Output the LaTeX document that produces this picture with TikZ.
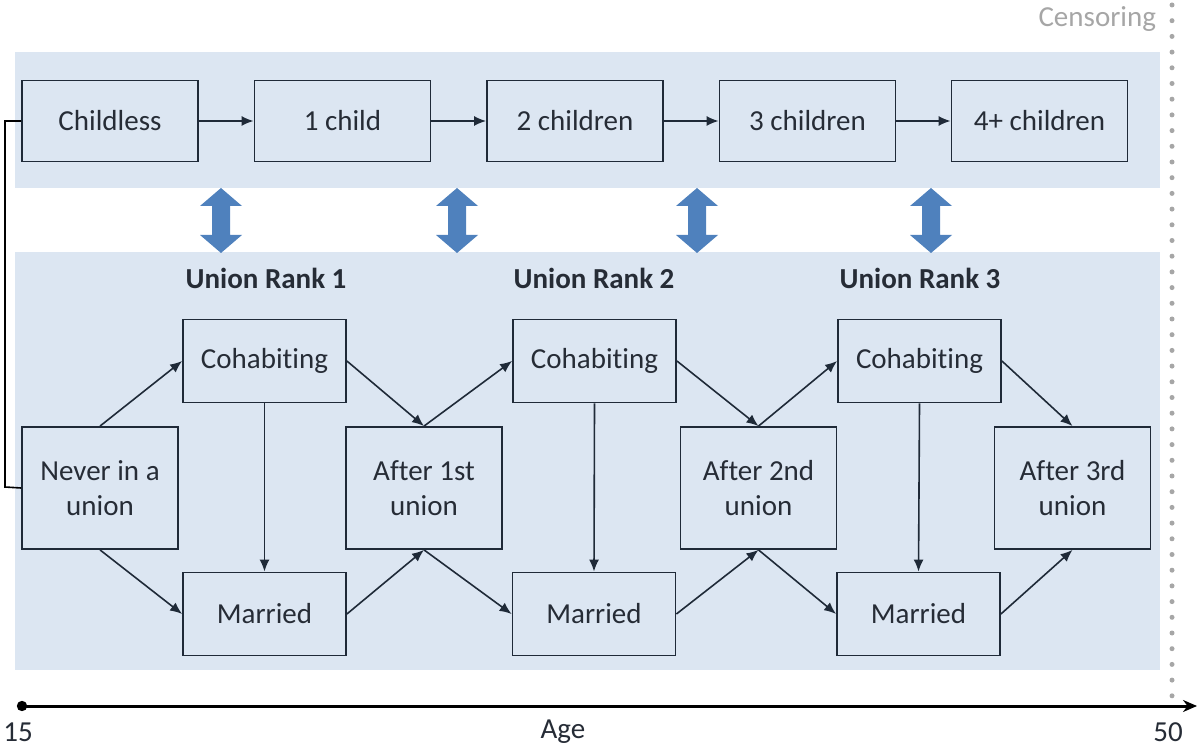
\documentclass[tikz,border=0pt]{standalone}
\usepackage{fontspec}
\setmainfont{Carlito}[Ligatures=NoCommon]
\usetikzlibrary{arrows.meta}
\definecolor{bandblue}{HTML}{DCE6F2}
\definecolor{boxline}{HTML}{1F2A38}
\definecolor{boxtext}{HTML}{262C36}
\definecolor{bigarrow}{HTML}{4F81BD}
\definecolor{censorgray}{HTML}{A6A6A6}

\begin{document}
\begin{tikzpicture}[x=0.5pt,y=-0.5pt]
	\tikzstyle{state} = [draw=boxline, fill=bandblue, line width=0.9pt, align=center, text=boxtext, font=\fontsize{14.5}{17.5}\selectfont, inner sep=2pt]
	\tikzstyle{parity} = [state, minimum width=88pt, minimum height=40.5pt]
	\tikzstyle{union} = [state, minimum width=81.5pt, minimum height=41.5pt]
	\tikzstyle{spell} = [state, minimum width=78pt, minimum height=61pt]
	\tikzstyle{rank} = [text=boxtext, font=\fontsize{14.5}{17.5}\selectfont\bfseries]
	\tikzstyle{trans} = [draw=boxline, line width=0.8pt, -{Latex[length=6pt,width=5pt]}]
	\useasboundingbox (0,0) rectangle (1197,747);
	% background bands
	\fill [bandblue] (15,52) rectangle (1160,188);
	\fill [bandblue] (15,252) rectangle (1160,670);
	% censoring line
	\draw [censorgray, line width=2.5pt, line cap=round, dash pattern=on 0pt off 7.85pt] (1172,5) -- (1172,700);
	\node[anchor=east, text=censorgray, font=\fontsize{14.5}{17.5}\selectfont] (cens) at (1163,19) {Censoring};
	% parity states
	\node[parity] (childless) at (110,121) {Childless};
	\node[parity] (child1) at (342.5,121) {1 child};
	\node[parity] (child2) at (575,121) {2 children};
	\node[parity] (child3) at (807.5,121) {3 children};
	\node[parity] (child4) at (1039.5,121) {4+ children};
	\path (childless) edge[trans] (child1)
		(child1) edge[trans] (child2)
		(child2) edge[trans] (child3)
		(child3) edge[trans] (child4);
	% links between the two processes
	\foreach \cx in {221,457,697,931}
		\fill [bigarrow] (\cx,188) -- (\cx+21,206) -- (\cx+9,206) -- (\cx+9,235) -- (\cx+21,235)
			-- (\cx,253) -- (\cx-21,235) -- (\cx-9,235) -- (\cx-9,206) -- (\cx-21,206) -- cycle;
	% union states
	\node[rank] (rank1) at (266,278) {Union Rank 1};
	\node[rank] (rank2) at (594,278) {Union Rank 2};
	\node[rank] (rank3) at (920,278) {Union Rank 3};
	\node[spell] (never) at (100,488) {Never in a\\union};
	\node[union] (cohab1) at (264.5,361) {Cohabiting};
	\node[union] (married1) at (264.5,614) {Married};
	\node[spell] (after1) at (424,488) {After 1st\\union};
	\node[union] (cohab2) at (594.5,361) {Cohabiting};
	\node[union] (married2) at (594,614) {Married};
	\node[spell] (after2) at (758.5,488) {After 2nd\\union};
	\node[union] (cohab3) at (919.5,361) {Cohabiting};
	\node[union] (married3) at (918.5,614) {Married};
	\node[spell] (after3) at (1072.5,488) {After 3rd\\union};
	\path (never.north) edge[trans] (cohab1.west)
		(never.south) edge[trans] (married1.west)
		(cohab1.south) edge[trans] (married1.north)
		(cohab1.east) edge[trans] (after1.north)
		(married1.east) edge[trans] (after1.south)
		(after1.north) edge[trans] (cohab2.west)
		(after1.south) edge[trans] (married2.west)
		(cohab2.south) edge[trans] (married2.north)
		(cohab2.east) edge[trans] (after2.north)
		(married2.east) edge[trans] (after2.south)
		(after2.north) edge[trans] (cohab3.west)
		(after2.south) edge[trans] (married3.west)
		(cohab3.south) edge[trans] (married3.north)
		(cohab3.east) edge[trans] (after3.north)
		(married3.east) edge[trans] (after3.south);
	% link from parity to union process
	\draw [black, line width=0.8pt] (childless.west) -| (5,487) -- (never.west);
	% age axis
	\coordinate (start) at (22,706);
	\coordinate (stop) at (1197,706);
	\fill [black] (start) circle (2.6pt);
	\draw [black, line width=1.5pt, -{Stealth[length=7pt,width=6pt]}] (start) -- (stop);
	\node[text=boxtext, font=\fontsize{14.5}{17.5}\selectfont] (age15) at (18,732) {15};
	\node[text=boxtext, font=\fontsize{14.5}{17.5}\selectfont] (age) at (563,732) {Age};
	\node[text=boxtext, font=\fontsize{14.5}{17.5}\selectfont] (age50) at (1168,732) {50};
\end{tikzpicture}
\end{document}
